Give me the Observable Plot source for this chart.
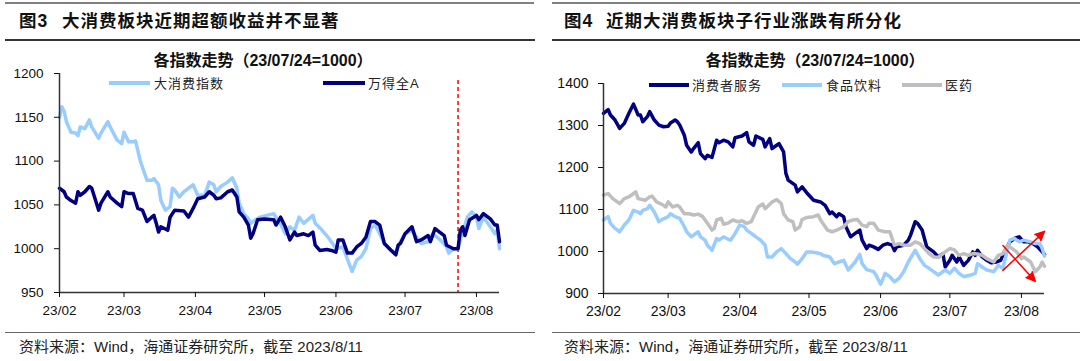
<!DOCTYPE html>
<html><head><meta charset="utf-8">
<script src="https://cdn.jsdelivr.net/npm/d3@7"></script>
<script src="https://cdn.jsdelivr.net/npm/@observablehq/plot@0.6"></script>
<style>
body{margin:0;background:#fff;}
#page{position:relative;width:1080px;height:361px;overflow:hidden;background:#fff;
  font-family:"Liberation Sans",Arial,"Noto Sans CJK SC",sans-serif;color:#111;}
.a{position:absolute;white-space:nowrap;line-height:1;z-index:2;}
.rule{position:absolute;z-index:2;}
.title{font-size:17.5px;font-weight:bold;letter-spacing:1px;}
.sub{font-size:16px;font-weight:bold;text-align:center;width:400px;}
.leg{font-size:13px;letter-spacing:1px;color:#222;}
.sw{position:absolute;height:4px;z-index:2;}
.foot{font-size:15px;color:#222;}
svg{position:absolute;top:0;z-index:1;}
</style></head>
<body><div id="page">
  <div class="rule" style="left:5px;top:2px;width:529px;height:2px;background:#808080"></div>
  <div class="rule" style="left:5px;top:39px;width:530px;height:1.5px;background:#333"></div>
  <div class="rule" style="left:5px;top:331.5px;width:530px;height:1.5px;background:#666"></div>
  <div class="rule" style="left:552px;top:2px;width:528px;height:2px;background:#808080"></div>
  <div class="rule" style="left:552px;top:39px;width:528px;height:1.5px;background:#333"></div>
  <div class="rule" style="left:552px;top:331.5px;width:528px;height:1.5px;background:#666"></div>

  <div class="a title" style="left:19px;top:13px">图3</div>
  <div class="a title" style="left:62px;top:13px">大消费板块近期超额收益并不显著</div>
  <div class="a title" style="left:564px;top:13px">图4</div>
  <div class="a title" style="left:606px;top:13px">近期大消费板块子行业涨跌有所分化</div>

  <div class="a sub" style="left:63px;top:53px">各指数走势（23/07/24=1000）</div>
  <div class="a sub" style="left:615px;top:53px">各指数走势（23/07/24=1000）</div>

  <div class="sw" style="left:109px;top:81px;width:41px;background:#99ccff"></div>
  <div class="a leg" style="left:154px;top:77px">大消费指数</div>
  <div class="sw" style="left:323px;top:81px;width:42px;background:#000080"></div>
  <div class="a leg" style="left:368px;top:77px">万得全A</div>

  <div class="sw" style="left:649px;top:83px;width:40px;background:#000080"></div>
  <div class="a leg" style="left:692px;top:79px">消费者服务</div>
  <div class="sw" style="left:782px;top:83px;width:40px;background:#99ccff"></div>
  <div class="a leg" style="left:826px;top:79px">食品饮料</div>
  <div class="sw" style="left:902px;top:83px;width:40px;background:#bfbfbf"></div>
  <div class="a leg" style="left:945px;top:79px">医药</div>

  <div class="a foot" style="left:19px;top:339px">资料来源：Wind，海通证券研究所，截至 2023/8/11</div>
  <div class="a foot" style="left:564px;top:339px">资料来源：Wind，海通证券研究所，截至 2023/8/11</div>
</div>
<script>
// ---- data (year 2023, dates as MM-DD) ----
const monthTicks = ["02-01","03-01","04-01","05-01","06-01","07-01","08-01"];
const monthLabels = ["23/02","23/03","23/04","23/05","23/06","23/07","23/08"];
const yTicksLeft = [950,1000,1050,1100,1150,1200];
const yTicksRight = [900,1000,1100,1200,1300,1400];
const baseDate = ["07-24"];

// Figure 3: 大消费指数
const consumerDates = ["02-01","02-02","02-03","02-04","02-06","02-08","02-09","02-10","02-12","02-14","02-15","02-18","02-19","02-22","02-23","02-26","02-28","03-01","03-03","03-05","03-06","03-08","03-09","03-11","03-13","03-14","03-16","03-17","03-19","03-21","03-22","03-23","03-25","03-27","03-29","03-31","04-01","04-02","04-05","04-07","04-09","04-10","04-12","04-15","04-17","04-19","04-20","04-22","04-24","04-25","04-27","04-29","05-02","05-05","05-06","05-08","05-10","05-12","05-14","05-16","05-18","05-22","05-23","05-26","05-28","05-30","06-01","06-04","06-07","06-08","06-10","06-12","06-14","06-16","06-18","06-20","06-22","06-25","06-27","06-29","07-01","07-04","07-06","07-08","07-11","07-13","07-15","07-17","07-19","07-20","07-22","07-24","07-25","07-28","07-30","08-01","08-02","08-04","08-07","08-09","08-10","08-11"];
const consumerValues = [1150,1162,1157,1145,1133,1132,1129,1139,1137,1147,1139,1126,1132,1145,1139,1124,1120,1133,1122,1122,1123,1101,1093,1078,1078,1080,1073,1055,1044,1048,1069,1067,1059,1065,1069,1073,1067,1061,1061,1076,1073,1065,1071,1076,1081,1069,1052,1040,1034,1029,1033,1036,1038,1040,1036,1028,1017,1025,1021,1036,1029,1038,1029,1021,1015,1008,1000,1002,981,974,987,991,1000,1023,1027,1017,1006,998,996,1008,1017,1021,1013,1006,1008,1017,1013,1008,1002,995,1000,1000,1010,1036,1042,1036,1023,1036,1025,1017,1021,1000];

// Figure 3: 万得全A
const allADates = ["02-01","02-03","02-04","02-06","02-08","02-09","02-10","02-12","02-14","02-15","02-18","02-19","02-22","02-23","02-26","02-28","03-01","03-03","03-05","03-07","03-09","03-11","03-13","03-14","03-15","03-16","03-17","03-20","03-21","03-23","03-27","03-29","03-31","04-02","04-05","04-07","04-09","04-10","04-12","04-15","04-17","04-19","04-20","04-22","04-24","04-25","04-26","04-28","05-01","05-05","05-06","05-08","05-10","05-12","05-14","05-15","05-18","05-20","05-22","05-23","05-25","05-28","05-30","06-01","06-02","06-04","06-06","06-08","06-10","06-12","06-14","06-16","06-18","06-20","06-22","06-25","06-27","06-28","06-29","07-01","07-04","07-06","07-08","07-11","07-12","07-14","07-16","07-18","07-19","07-22","07-24","07-25","07-26","07-27","07-29","08-01","08-02","08-04","08-07","08-09","08-10","08-11"];
const allAValues = [1069,1065,1059,1055,1052,1065,1061,1065,1071,1069,1044,1052,1065,1059,1052,1048,1065,1063,1063,1046,1044,1031,1036,1038,1029,1019,1025,1021,1036,1044,1043,1036,1046,1057,1059,1065,1061,1057,1058,1065,1067,1059,1042,1036,1027,1012,1017,1033,1034,1033,1027,1036,1025,1010,1019,1015,1017,1015,1019,1004,998,999,998,996,1010,1010,995,995,1002,1006,1013,1031,1031,1027,1006,998,993,1004,1006,1017,1025,1008,1010,1015,1008,1023,1019,1015,1004,1000,1000,1021,1025,1015,1033,1038,1033,1040,1034,1027,1027,1008];

// Figure 4: 消费者服务
const serviceDates = ["02-01","02-03","02-04","02-06","02-08","02-10","02-12","02-14","02-16","02-17","02-18","02-20","02-21","02-23","02-25","02-27","03-01","03-02","03-04","03-05","03-06","03-08","03-09","03-11","03-12","03-14","03-15","03-17","03-18","03-20","03-22","03-23","03-25","03-27","03-29","03-30","04-02","04-04","04-05","04-07","04-08","04-11","04-12","04-14","04-15","04-17","04-18","04-20","04-21","04-22","04-25","04-26","04-28","04-30","05-03","05-06","05-08","05-10","05-11","05-13","05-14","05-16","05-17","05-19","05-21","05-23","05-24","05-26","05-27","05-29","05-31","06-02","06-04","06-06","06-07","06-08","06-11","06-13","06-14","06-16","06-17","06-19","06-20","06-21","06-24","06-26","06-28","06-29","07-01","07-02","07-04","07-05","07-07","07-09","07-11","07-12","07-13","07-15","07-17","07-19","07-21","07-23","07-25","07-27","07-29","07-31","08-02","08-04","08-06","08-08","08-10","08-11"];
const serviceValues = [1329,1338,1325,1313,1293,1305,1329,1351,1325,1325,1309,1321,1333,1313,1301,1297,1298,1306,1313,1309,1301,1277,1253,1237,1245,1259,1233,1221,1229,1224,1265,1259,1265,1261,1249,1271,1275,1283,1261,1253,1275,1267,1249,1269,1245,1253,1257,1237,1186,1170,1158,1142,1154,1140,1122,1118,1110,1090,1094,1083,1090,1083,1059,1035,1043,1051,1027,1007,1015,1011,1005,1015,1019,1015,1002,1011,1015,1027,1039,1071,1067,1051,1031,1011,999,987,995,963,979,991,975,987,967,979,999,991,1003,987,979,973,975,979,1003,1023,1031,1035,1023,1023,1019,1011,999,993];

// Figure 4: 食品饮料
const foodDates = ["02-01","02-03","02-04","02-06","02-08","02-10","02-12","02-14","02-16","02-17","02-18","02-20","02-21","02-23","02-25","02-26","03-01","03-02","03-04","03-06","03-08","03-09","03-11","03-12","03-14","03-15","03-17","03-18","03-20","03-22","03-23","03-25","03-27","03-28","03-30","04-01","04-03","04-04","04-06","04-08","04-10","04-12","04-13","04-15","04-17","04-19","04-21","04-23","04-25","04-26","04-28","04-30","05-02","05-04","05-06","05-07","05-10","05-12","05-14","05-16","05-18","05-21","05-23","05-24","05-26","05-29","05-30","06-01","06-03","06-05","06-07","06-09","06-11","06-13","06-16","06-18","06-20","06-22","06-24","06-26","06-29","07-01","07-03","07-05","07-07","07-10","07-12","07-13","07-15","07-17","07-20","07-22","07-24","07-25","07-27","07-29","07-31","08-02","08-05","08-07","08-09","08-10","08-11"];
const foodValues = [1075,1083,1067,1055,1047,1063,1075,1098,1094,1090,1098,1102,1110,1094,1071,1075,1083,1090,1083,1079,1059,1047,1035,1039,1047,1035,1027,1015,1003,1031,1027,1035,1029,1027,1043,1063,1059,1051,1043,1035,1027,1015,987,987,999,1007,995,983,975,970,983,999,999,997,995,991,987,971,975,979,956,975,993,971,957,952,944,922,948,940,928,936,952,975,1003,983,967,960,952,944,956,948,960,948,940,944,948,971,963,956,952,967,960,983,1027,1031,1023,1027,1023,1019,1019,1007,989];

// Figure 4: 医药
const pharmaDates = ["02-01","02-03","02-05","02-07","02-08","02-10","02-12","02-13","02-15","02-16","02-19","02-21","02-22","02-24","02-27","02-28","03-01","03-03","03-05","03-06","03-08","03-10","03-12","03-14","03-16","03-18","03-20","03-21","03-22","03-24","03-25","03-27","03-29","03-31","04-02","04-04","04-06","04-07","04-09","04-11","04-12","04-15","04-17","04-19","04-20","04-22","04-24","04-25","04-27","04-28","04-30","05-03","05-05","05-06","05-07","05-09","05-11","05-13","05-16","05-18","05-20","05-22","05-24","05-26","05-27","05-29","05-31","06-03","06-05","06-07","06-09","06-11","06-14","06-16","06-18","06-20","06-22","06-24","06-26","06-29","07-01","07-03","07-05","07-07","07-09","07-11","07-13","07-15","07-17","07-20","07-22","07-24","07-26","07-28","07-30","08-01","08-02","08-05","08-07","08-09","08-10","08-11"];
const pharmaValues = [1134,1138,1126,1118,1114,1126,1130,1134,1142,1126,1122,1130,1132,1118,1110,1106,1118,1106,1110,1106,1090,1090,1087,1089,1083,1067,1051,1055,1075,1079,1065,1068,1075,1071,1073,1067,1071,1083,1106,1113,1102,1118,1124,1114,1090,1075,1071,1051,1059,1076,1081,1083,1087,1075,1067,1051,1047,1051,1059,1071,1075,1076,1063,1059,1067,1067,1051,1047,1047,1015,1019,1015,1015,1023,1019,1007,995,987,986,999,1007,1004,991,995,991,995,994,991,983,975,991,995,1015,1007,999,983,987,975,952,963,975,965];

// Figure 4 annotation arrows (data space: date, index value)
const arrowStartDates = ["07-24","07-24"];
const arrowStartValues = [955,1014];
const arrowEndDates = ["08-11","08-07"];
const arrowEndValues = [1048,929];

// ---- build ----
const YEAR = 2023;
const parse = s => new Date(`${YEAR}-${s}T00:00:00Z`);
const rows = (dates, values) => dates.map((d, i) => ({date: parse(d), value: values[i]}));
const ticks = monthTicks.map(parse);
const fmtMonth = d => monthLabels[ticks.findIndex(t => +t === +d)];
const xDomain = [parse("02-01"), parse("08-11")];
const colors = {light: "#99ccff", navy: "#000080", grey: "#bfbfbf", axis: "#333"};
const styleBase = {background: "transparent", fontFamily: "'Liberation Sans', Arial, sans-serif", color: "#111", overflow: "visible"};

const left = Plot.plot({
  width: 540, height: 330,
  marginLeft: 59, marginRight: 41, marginTop: 73, marginBottom: 38,
  style: {...styleBase, fontSize: "13.5px"},
  x: {type: "utc", domain: xDomain},
  y: {domain: [950, 1200]},
  marks: [
    Plot.ruleX(baseDate.map(parse), {x: d => d, y1: 1192, y2: 950, stroke: "#ff0000", strokeWidth: 1.5, strokeDasharray: "4,3"}),
    Plot.line(rows(consumerDates, consumerValues), {x: "date", y: "value", stroke: colors.light, strokeWidth: 3.5, curve: "linear"}),
    Plot.line(rows(allADates, allAValues), {x: "date", y: "value", stroke: colors.navy, strokeWidth: 3.5, curve: "linear"}),
    Plot.ruleX([xDomain[0]], {stroke: colors.axis, strokeWidth: 1.5}),
    Plot.ruleY([950], {stroke: colors.axis, strokeWidth: 1.5}),
    Plot.axisY({ticks: yTicksLeft, tickFormat: d3.format("d"), tickSize: 5, tickPadding: 11, label: null}),
    Plot.axisX({ticks: ticks, tickFormat: fmtMonth, tickSize: 5, tickPadding: 8, label: null})
  ]
});
left.style.left = "0px";
document.getElementById("page").appendChild(left);

const arrows = arrowStartDates.map((d, i) => ({
  x1: parse(d), y1: arrowStartValues[i], x2: parse(arrowEndDates[i]), y2: arrowEndValues[i]
}));

const right = Plot.plot({
  width: 540, height: 330,
  marginLeft: 63, marginRight: 36, marginTop: 83, marginBottom: 37,
  style: {...styleBase, fontSize: "14px"},
  x: {type: "utc", domain: xDomain},
  y: {domain: [900, 1400]},
  marks: [
    Plot.line(rows(serviceDates, serviceValues), {x: "date", y: "value", stroke: colors.navy, strokeWidth: 3.5}),
    Plot.line(rows(foodDates, foodValues), {x: "date", y: "value", stroke: colors.light, strokeWidth: 3.5}),
    Plot.line(rows(pharmaDates, pharmaValues), {x: "date", y: "value", stroke: colors.grey, strokeWidth: 3.5}),
    Plot.arrow(arrows, {x1: "x1", y1: "y1", x2: "x2", y2: "y2", stroke: "#ff0000", fill: "#ff0000", strokeWidth: 1.5, headLength: 10, headAngle: 50}),
    Plot.ruleX([xDomain[0]], {stroke: colors.axis, strokeWidth: 1.5}),
    Plot.ruleY([900], {stroke: colors.axis, strokeWidth: 1.5}),
    Plot.axisY({ticks: yTicksRight, tickFormat: d3.format("d"), tickSize: 5, tickPadding: 10, label: null}),
    Plot.axisX({ticks: ticks, tickFormat: fmtMonth, tickSize: 5, tickPadding: 8, label: null})
  ]
});
right.style.left = "540px";
document.getElementById("page").appendChild(right);
</script>
</body></html>
